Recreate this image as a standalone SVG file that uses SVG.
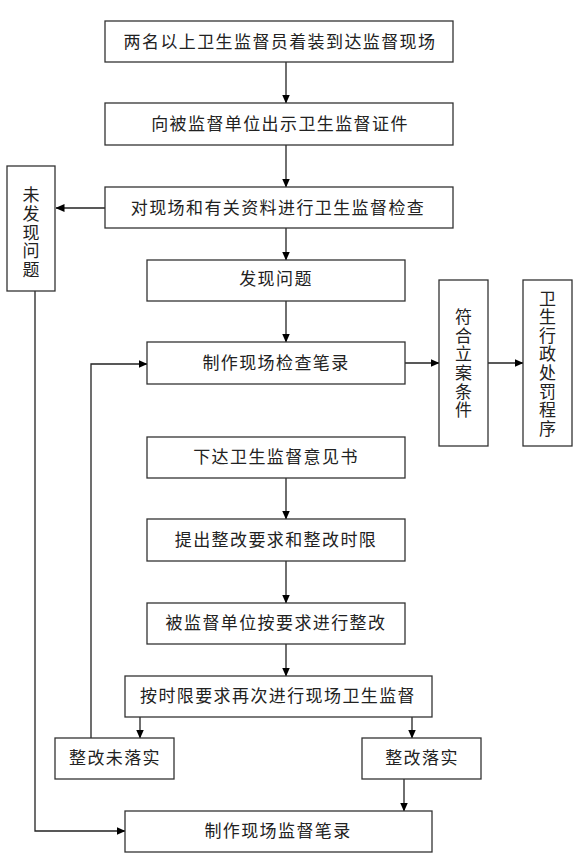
<svg xmlns="http://www.w3.org/2000/svg" width="575" height="854" viewBox="0 0 575 854">
<defs>
<marker id="ah" markerWidth="9" markerHeight="8" refX="8.5" refY="4" orient="auto" markerUnits="userSpaceOnUse">
<path d="M0,0 L9,4 L0,8 Z" fill="#000"/>
</marker>
<style>
rect{fill:#fff;stroke:#333;stroke-width:1.3}
text{font-family:"Noto Sans CJK SC","Liberation Serif",serif;font-size:17px;fill:#222;letter-spacing:1.4px}
.h{text-anchor:middle}
.v{text-anchor:middle;writing-mode:vertical-rl;letter-spacing:1.6px}
#connectors path,#connectors line{stroke:#222;stroke-width:1.3;fill:none;marker-end:url(#ah)}
</style>
</defs>
<rect x="0" y="0" width="575" height="854" style="stroke:none;fill:#fff"/>
<g id="connectors">
<line x1="286" y1="62" x2="286" y2="103"/>
<line x1="286" y1="145" x2="286" y2="187"/>
<line x1="105" y1="208" x2="56" y2="208"/>
<line x1="286" y1="228" x2="286" y2="260"/>
<line x1="286" y1="301" x2="286" y2="342"/>
<line x1="405" y1="363" x2="439" y2="363"/>
<line x1="488" y1="363" x2="523" y2="363"/>
<line x1="286" y1="478" x2="286" y2="519"/>
<line x1="286" y1="561" x2="286" y2="603"/>
<line x1="286" y1="644" x2="286" y2="676"/>
<line x1="140" y1="717" x2="140" y2="738"/>
<line x1="412" y1="717" x2="412" y2="738"/>
<line x1="404" y1="779" x2="404" y2="811"/>
<path d="M91,738 L91,364 L147,364"/>
<path d="M35,291 L35,831 L125,831"/>
</g>
<g id="n1"><rect x="105" y="21" width="348" height="41"/><text class="h" x="280" y="47.5">两名以上卫生监督员着装到达监督现场</text></g>
<g id="n2"><rect x="105" y="103" width="348" height="42"/><text class="h" x="280" y="130">向被监督单位出示卫生监督证件</text></g>
<g id="n3"><rect x="105" y="187" width="348" height="41"/><text class="h" x="278" y="213.5">对现场和有关资料进行卫生监督检查</text></g>
<g id="n4"><rect x="7" y="166" width="48" height="125"/><text class="v" x="31" y="233">未发现问题</text></g>
<g id="n5"><rect x="147" y="260" width="258" height="41"/><text class="h" x="276" y="285">发现问题</text></g>
<g id="n6"><rect x="147" y="342" width="258" height="42"/><text class="h" x="276" y="369">制作现场检查笔录</text></g>
<g id="n7"><rect x="439" y="280" width="49" height="166"/><text class="v" x="463.5" y="364">符合立案条件</text></g>
<g id="n8"><rect x="523" y="280" width="49" height="166"/><text class="v" x="547.5" y="364">卫生行政处罚程序</text></g>
<g id="n9"><rect x="147" y="437" width="258" height="41"/><text class="h" x="276" y="463">下达卫生监督意见书</text></g>
<g id="n10"><rect x="147" y="519" width="258" height="42"/><text class="h" x="276" y="546">提出整改要求和整改时限</text></g>
<g id="n11"><rect x="147" y="603" width="258" height="41"/><text class="h" x="276" y="629">被监督单位按要求进行整改</text></g>
<g id="n12"><rect x="125" y="676" width="307" height="41"/><text class="h" x="278" y="702">按时限要求再次进行现场卫生监督</text></g>
<g id="n13"><rect x="55" y="738" width="119" height="41"/><text class="h" x="115" y="764">整改未落实</text></g>
<g id="n14"><rect x="362" y="738" width="119" height="41"/><text class="h" x="422" y="764">整改落实</text></g>
<g id="n15"><rect x="125" y="811" width="307" height="41"/><text class="h" x="278" y="837">制作现场监督笔录</text></g>
</svg>
